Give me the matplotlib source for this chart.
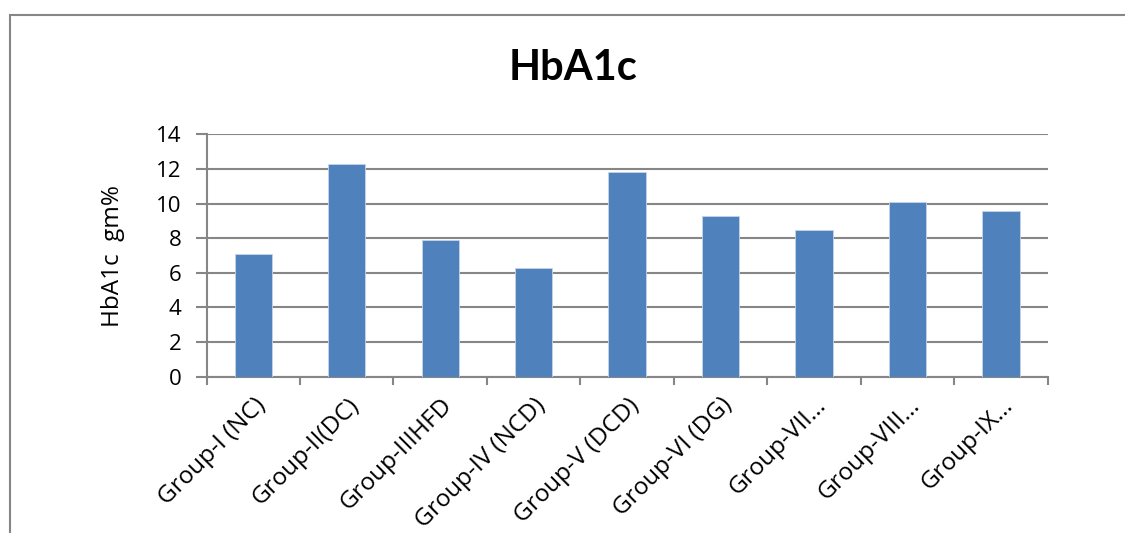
import numpy as np
import matplotlib.pyplot as plt
from matplotlib.patches import Rectangle

# HbA1c by group
groups = ['Group-I (NC)', 'Group-II(DC)', 'Group-IIIHFD', 'Group-IV (NCD)',
          'Group-V (DCD)', 'Group-VI (DG)', 'Group-VII…', 'Group-VIII…', 'Group-IX…']
hba1c = [7.1, 12.3, 7.9, 6.3, 11.8, 9.3, 8.5, 10.1, 9.6]
yticks = [0, 2, 4, 6, 8, 10, 12, 14]

plt.rcParams['font.family'] = ['Open Sans', 'DejaVu Sans']
grey = '#868686'

fig = plt.figure(figsize=(11.25, 5.33), dpi=100)
ax = fig.add_axes([0.1836, 0.2932, 0.7477, 0.4548])

x = np.arange(len(groups))
ax.bar(x, hba1c, width=0.4, color='#4F81BD', edgecolor='#C6D4EA', linewidth=0.6, zorder=3)

ax.set_xlim(-0.5, len(groups) - 0.5)
ax.set_ylim(0, 14)
ax.set_yticks(yticks)
ax.yaxis.grid(True, color=grey, linewidth=1.5, zorder=0)

# category labels, tick marks on the boundaries
ax.set_xticks(x)
ax.set_xticklabels(groups, rotation=45, ha='right', rotation_mode='anchor', fontsize=17.5)
ax.tick_params(axis='x', which='major', length=0, pad=12)
ax.set_xticks(np.arange(-0.5, len(groups)), minor=True)
ax.tick_params(axis='x', which='minor', length=6, width=1.5, color=grey)
ax.tick_params(axis='y', length=8, width=1.5, color=grey, labelsize=16, pad=10)

for s in ['top', 'right']:
    ax.spines[s].set_visible(False)
for s in ['left', 'bottom']:
    ax.spines[s].set_color(grey)
    ax.spines[s].set_linewidth(1.5)

ax.set_ylabel('HbA1c  gm%', fontsize=17.5, labelpad=22)
fig.text(0.509, 0.872, 'HbA1c', fontsize=30, fontweight='bold', family='Lato',
         ha='center', va='center')

# outer chart border
fig.patches.append(Rectangle((0.0093, -0.1), 1.2, 1.072, transform=fig.transFigure,
                             fill=False, edgecolor=grey, linewidth=1.5))

fig.savefig('out.png', dpi=100)
